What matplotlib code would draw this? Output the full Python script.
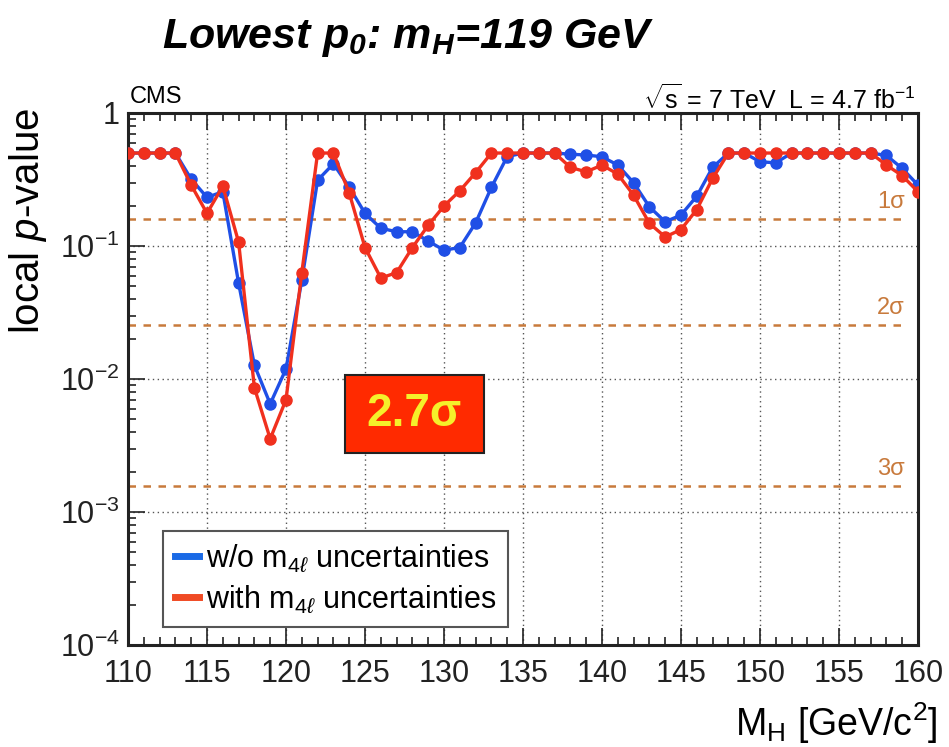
import numpy as np
import matplotlib
matplotlib.use("Agg")
import matplotlib.pyplot as plt
from matplotlib.ticker import FixedLocator, NullFormatter, LogLocator
from matplotlib.patches import Rectangle
from matplotlib.lines import Line2D

plt.rcParams['font.family'] = ['Liberation Sans', 'DejaVu Sans']
plt.rcParams['mathtext.fontset'] = 'custom'
plt.rcParams['mathtext.rm'] = 'Liberation Sans'
plt.rcParams['mathtext.it'] = 'Liberation Sans:italic'
plt.rcParams['mathtext.bf'] = 'Liberation Sans:bold:italic'

# ---- data ----
mass = list(range(110, 161))
p_without = [0.5, 0.5, 0.5, 0.5, 0.318, 0.232, 0.256, 0.0527, 0.0127, 0.0065,
             0.0119, 0.0553, 0.312, 0.415, 0.278, 0.176, 0.136, 0.128, 0.128, 0.109,
             0.093, 0.0974, 0.149, 0.276, 0.47, 0.5, 0.5, 0.5, 0.49, 0.483,
             0.469, 0.406, 0.299, 0.197, 0.152, 0.171, 0.237, 0.39, 0.5, 0.5,
             0.43, 0.422, 0.5, 0.5, 0.5, 0.5, 0.5, 0.5, 0.48, 0.383,
             0.287]
p_with = [0.5, 0.5, 0.5, 0.5, 0.287, 0.176, 0.282, 0.107, 0.0086, 0.00355,
          0.00698, 0.063, 0.5, 0.5, 0.251, 0.0974, 0.0575, 0.063, 0.0974, 0.143,
          0.2, 0.26, 0.356, 0.5, 0.5, 0.5, 0.5, 0.5, 0.39, 0.361,
          0.406, 0.347, 0.241, 0.148, 0.117, 0.133, 0.188, 0.322, 0.5, 0.5,
          0.5, 0.5, 0.5, 0.5, 0.5, 0.5, 0.5, 0.5, 0.406, 0.338,
          0.256]
sigma_labels = ["1σ", "2σ", "3σ"]
sigma_p = [0.1587, 0.0253, 0.00156]
x_ticks = [110, 115, 120, 125, 130, 135, 140, 145, 150, 155, 160]
y_ticks = [1e-4, 1e-3, 1e-2, 1e-1, 1]
y_ticklabels = [r"10$^{-4}$", r"10$^{-3}$", r"10$^{-2}$", r"10$^{-1}$", "1"]

BLUE = '#1f4fe6'
RED = '#f0301e'
SIG = '#c87a3c'

fig = plt.figure(figsize=(9.49, 7.47), dpi=100)
ax = fig.add_axes([128/949, 1-645/747, (918-128)/949, (645-113)/747])
ax.set_yscale('log')
ax.set_xlim(110, 160)
ax.set_ylim(1e-4, 1)

# grid
for xt in x_ticks[1:-1]:
    ax.axvline(xt, color='#555555', lw=1.0, ls=(0, (1, 2.5)), zorder=1)
for yt in y_ticks[1:-1]:
    ax.axhline(yt, color='#555555', lw=1.0, ls=(0, (1, 2.5)), zorder=1)

# sigma lines
for lab, pv in zip(sigma_labels, sigma_p):
    ax.axhline(pv, xmin=0.0, xmax=0.985, color=SIG, lw=1.8, ls=(0, (3, 3)), zorder=2)
    ax.text(0.983, pv * 1.12, lab, transform=ax.get_yaxis_transform(),
            ha='right', va='bottom', color=SIG, fontsize=17)

ax.plot(mass, p_without, color=BLUE, lw=2.4, marker='o', ms=8, zorder=4)
ax.plot(mass, p_with, color=RED, lw=2.4, marker='o', ms=8, zorder=5)

# ticks
ax.xaxis.set_major_locator(FixedLocator(x_ticks))
ax.xaxis.set_minor_locator(FixedLocator(mass))
ax.set_xticklabels([str(v) for v in x_ticks])
ax.yaxis.set_major_locator(FixedLocator(y_ticks))
ax.set_yticklabels(y_ticklabels)
ax.yaxis.set_minor_locator(LogLocator(base=10, subs=np.arange(2, 10)))
ax.yaxis.set_minor_formatter(NullFormatter())
ax.tick_params(which='both', direction='in', top=True, right=False, labelsize=22,
               width=1.2, colors='#222222')
ax.tick_params(which='major', length=12)
ax.tick_params(which='minor', length=6)
ax.tick_params(axis='x', pad=10)
ax.tick_params(axis='y', pad=6)
for s in ax.spines.values():
    s.set_linewidth(2.2)
    s.set_color('#222222')

ax.set_ylabel(r"local $p$-value", fontsize=29, loc='top')
ax.yaxis.set_label_coords(-0.100, 1.01)
ax.set_xlabel(r"M$_\mathregular{H}$ [GeV/c$^2$]", fontsize=27, ha='right')
ax.xaxis.set_label_coords(1.024, -0.105)

# legend
handles = [Line2D([0], [0], color='#1a6ae6', lw=5),
           Line2D([0], [0], color='#f04a24', lw=5)]
leg = ax.legend(handles, [r"w/o m$_{4\ell}$ uncertainties", r"with m$_{4\ell}$ uncertainties"],
                loc='lower left', bbox_to_anchor=(0.044, 0.034), borderaxespad=0,
                fontsize=22, handlelength=0.8, handletextpad=0.2, borderpad=0.4,
                labelspacing=0.3, fancybox=False, framealpha=1, edgecolor='#555555')
leg.get_frame().set_linewidth(1.5)

# 2.7 sigma box
ax.add_patch(Rectangle((0.2747, 0.3609), 0.1759, 0.1466, transform=ax.transAxes,
                       facecolor='#ff2a00', edgecolor='#222222', lw=1.5, zorder=6))
ax.text(0.2747 + 0.1759/2, 0.3609 + 0.1466/2, "2.7σ", transform=ax.transAxes,
        ha='center', va='center', color='#f5f02a', fontsize=33, fontweight='bold',
        zorder=7)

# texts
fig.text(130/949, 1-97/747, "CMS", fontsize=17, ha='left', va='center')
fig.text(915/949, 1-99/747, r"$\sqrt{\mathrm{s}}$ = 7 TeV  L = 4.7 fb$^{-1}$", fontsize=18,
         ha='right', va='center')
fig.text(408/949, 1-38/747, r"Lowest $\mathbf{p_0}$: $\mathbf{m_H}$=119 GeV",
         fontsize=31, fontweight='bold', style='italic', ha='center', va='center')

fig.savefig("out.png", dpi=100)
